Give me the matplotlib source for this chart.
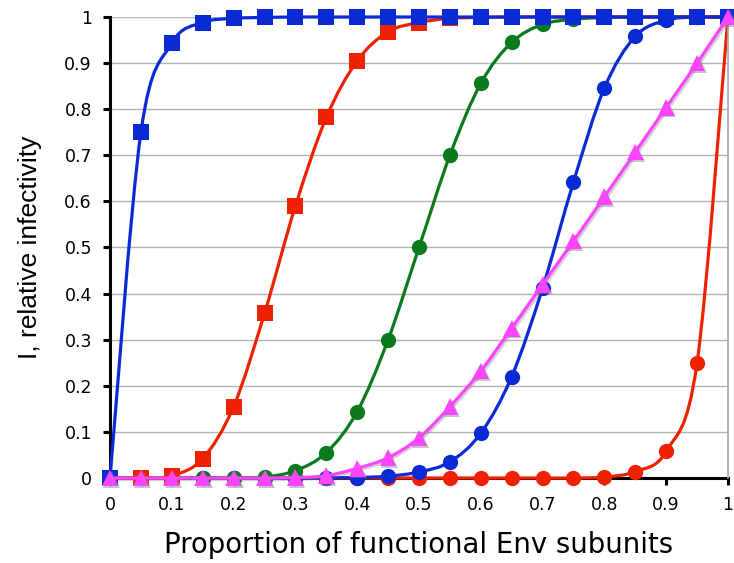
import matplotlib
matplotlib.use("Agg")
import matplotlib.pyplot as plt
import matplotlib.patheffects as pe
import numpy as np
from matplotlib.path import Path
from matplotlib.patches import PathPatch

plt.rcParams["font.family"] = "DejaVu Sans"

# proportion of functional Env subunits
x = [0.0, 0.05, 0.1, 0.15, 0.2, 0.25, 0.3, 0.35, 0.4, 0.45, 0.5,
     0.55, 0.6, 0.65, 0.7, 0.75, 0.8, 0.85, 0.9, 0.95, 1.0]

blue_sq = [0.0, 0.75, 0.943, 0.988, 0.997, 0.999, 1.0, 1.0, 1.0, 1.0, 1.0,
           1.0, 1.0, 1.0, 1.0, 1.0, 1.0, 1.0, 1.0, 1.0, 1.0]
red_sq = [0.0, 0.0, 0.005, 0.042, 0.155, 0.357, 0.59, 0.782, 0.905, 0.968, 0.988,
          0.997, 0.999, 1.0, 1.0, 1.0, 1.0, 1.0, 1.0, 1.0, 1.0]
green_ci = [0.0, 0.0, 0.0, 0.0, 0.0, 0.002, 0.016, 0.055, 0.144, 0.3, 0.5,
            0.7, 0.856, 0.945, 0.984, 0.995, 0.999, 1.0, 1.0, 1.0, 1.0]
blue_ci = [0.0, 0.0, 0.0, 0.0, 0.0, 0.0, 0.0, 0.0005, 0.001, 0.004, 0.013,
           0.035, 0.097, 0.22, 0.412, 0.642, 0.846, 0.958, 0.993, 1.0, 1.0]
magenta_tri = [0.0, 0.0, 0.0, 0.0, 0.0, 0.0, 0.001, 0.005, 0.021, 0.044, 0.087,
               0.155, 0.232, 0.325, 0.42, 0.514, 0.61, 0.707, 0.804, 0.9, 1.0]
red_ci = [0.0, 0.0, 0.0, 0.0, 0.0, 0.0, 0.0, 0.0, 0.0, 0.0, 0.0,
          0.0, 0.0, 0.0, 0.0, 0.0, 0.002, 0.014, 0.058, 0.25, 1.0]

C_BLUE = "#0a2ad6"
C_RED = "#ee2200"
C_GREEN = "#0b7a1f"
C_MAG = "#ff44ff"


def smooth_path(xs, ys):
    # excel-style smoothed line: cubic bezier through each point
    pts = np.column_stack([xs, ys])
    n = len(pts)
    verts = [pts[0]]
    codes = [Path.MOVETO]
    for i in range(n - 1):
        p0 = pts[max(i - 1, 0)]
        p1 = pts[i]
        p2 = pts[i + 1]
        p3 = pts[min(i + 2, n - 1)]
        verts += [p1 + (p2 - p0) / 6.0, p2 - (p3 - p1) / 6.0, p2]
        codes += [Path.CURVE4] * 3
    return Path(verts, codes)


fig = plt.figure(figsize=(7.34, 5.63), dpi=100)
ax = fig.add_axes([0.1499, 0.151, 0.8419, 0.8188])

series = [
    (red_ci, C_RED, "o", 11, 2),
    (blue_ci, C_BLUE, "o", 11, 3),
    (green_ci, C_GREEN, "o", 11, 4),
    (red_sq, C_RED, "s", 11, 5),
    (blue_sq, C_BLUE, "s", 11, 6),
    (magenta_tri, C_MAG, "^", 12, 7),
]

for ys, col, mk, ms, z in series:
    patch = PathPatch(smooth_path(x, ys), facecolor="none", edgecolor=col,
                      linewidth=2.3, zorder=z, clip_on=False)
    ax.add_patch(patch)
    line, = ax.plot(x, ys, linestyle="none", marker=mk, markersize=ms,
                    color=col, markeredgewidth=0, zorder=z + 0.5, clip_on=False)
    if mk == "^":
        # grey drop shadow on the triangle series
        patch.set_path_effects([pe.SimpleLineShadow(offset=(1.2, -1.2),
                                                    shadow_color="#808080", alpha=0.35),
                                pe.Normal()])
        line.set_path_effects([pe.SimplePatchShadow(offset=(1.2, -1.2),
                                                    shadow_rgbFace="#808080", alpha=0.45),
                               pe.Normal()])

ax.set_xlim(0, 1)
ax.set_ylim(0, 1)
ticks = np.arange(0, 1.01, 0.1)
tick_labels = ["0", "0.1", "0.2", "0.3", "0.4", "0.5", "0.6", "0.7", "0.8", "0.9", "1"]
ax.set_xticks(ticks)
ax.set_xticklabels(tick_labels)
ax.set_yticks(ticks)
ax.set_yticklabels(tick_labels)

ax.yaxis.grid(True, color="#b4b4b4", linewidth=1.0, zorder=0)
ax.set_axisbelow(True)

for side in ["left", "bottom"]:
    ax.spines[side].set_linewidth(2.2)
    ax.spines[side].set_color("black")
    ax.spines[side].set_zorder(1)
ax.spines["top"].set_visible(False)
ax.spines["right"].set_color("#a8a8a8")
ax.spines["right"].set_linewidth(1.2)

ax.tick_params(axis="both", direction="out", length=5, width=2.2, labelsize=12.5,
               colors="black")
ax.tick_params(axis="y", pad=8)
ax.tick_params(axis="x", pad=8)
ax.tick_params(axis="y", right=False)

ax.set_xlabel("Proportion of functional Env subunits", fontsize=19.8, labelpad=12)
ax.set_ylabel("I, relative infectivity", fontsize=19, labelpad=16,
              family="Liberation Sans")

fig.savefig("out.png", dpi=100)
